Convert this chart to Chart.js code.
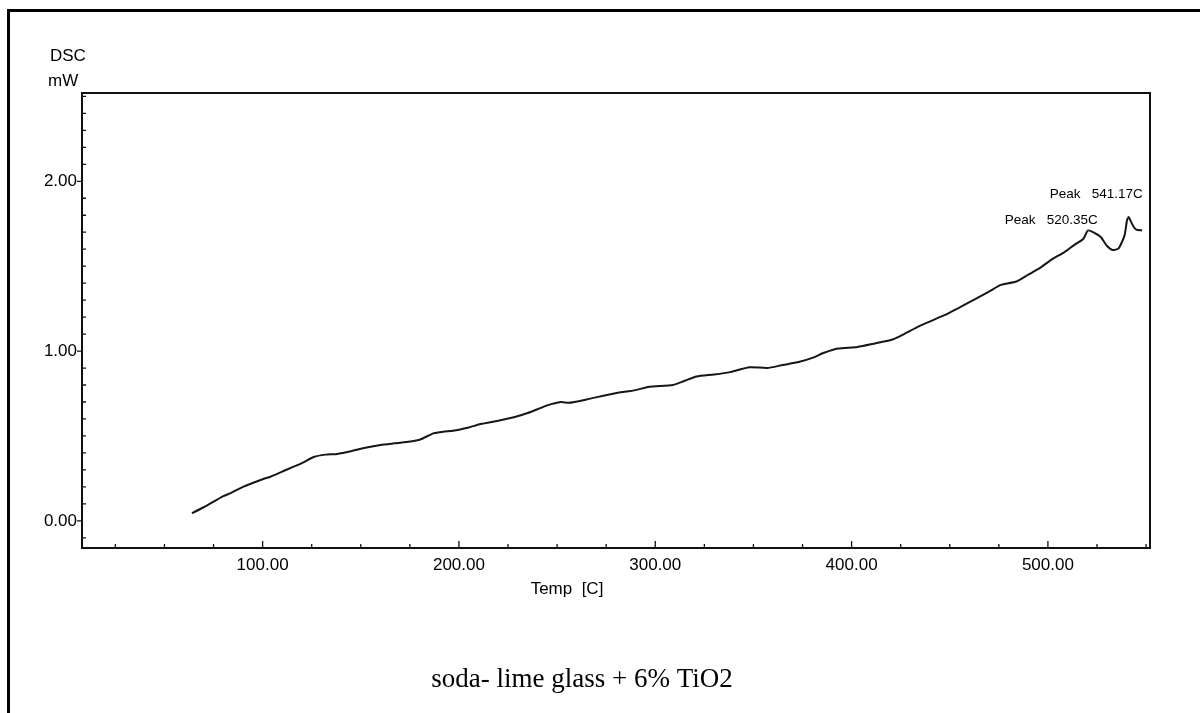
<!DOCTYPE html>
<html>
<head>
<meta charset="utf-8">
<script src="https://cdn.jsdelivr.net/npm/chart.js@4/dist/chart.umd.min.js"></script>
<style>
  html, body { margin: 0; padding: 0; background: #fff; overflow: hidden; }
  #wrap { position: relative; width: 1200px; height: 713px; }
  #frame { position: absolute; left: 7px; top: 9px; width: 1200px; height: 720px;
           border-left: 3px solid #000; border-top: 3px solid #000; pointer-events: none; }
  canvas { position: absolute; left: 0; top: 0; }
</style>
</head>
<body>
<div id="wrap">
  <canvas id="dscChart" width="1200" height="713"></canvas>
  <div id="frame"></div>
</div>
<script>
// DSC trace (Temp in C, DSC in mW)
const temps = [64, 70, 80, 84, 90, 100, 104, 110, 120, 126, 132, 138, 145, 150, 160, 170, 180, 187, 192, 197,
  205, 211, 220, 228, 235, 245, 252, 256, 265, 279, 290, 297, 309, 315, 321, 330, 338, 348, 357, 365,
  373, 380, 386, 393, 403, 412, 420, 425, 435, 449, 462, 470, 476, 484, 490, 496, 502, 508, 514, 518,
  520.35, 523, 527, 530, 533, 536, 539, 540.3, 541.17, 542, 543.5, 545, 548];
const dsc = [0.045, 0.08, 0.145, 0.165, 0.2, 0.245, 0.26, 0.29, 0.34, 0.376, 0.39, 0.394, 0.41, 0.425, 0.447, 0.46, 0.478, 0.515, 0.525, 0.53,
  0.55, 0.57, 0.59, 0.61, 0.635, 0.68, 0.7, 0.695, 0.715, 0.75, 0.77, 0.79, 0.8, 0.825, 0.85, 0.862, 0.876, 0.905, 0.9, 0.918,
  0.935, 0.96, 0.99, 1.015, 1.024, 1.045, 1.065, 1.09, 1.15, 1.22, 1.3, 1.35, 1.39, 1.41, 1.45, 1.49, 1.54, 1.58, 1.63, 1.66,
  1.71, 1.7, 1.67, 1.62, 1.595, 1.605, 1.68, 1.77, 1.79, 1.77, 1.735, 1.715, 1.71];

const xTicks = [100, 200, 300, 400, 500];
const yTicks = [0, 1, 2];
const peakTemps = [520.35, 541.17];
const peakValues = [1.71, 1.79];

const labelFont = '"Liberation Sans", Arial, sans-serif';

// frame, tick marks and the free texts
const decorations = {
  id: 'decorations',
  afterDraw(chart) {
    const ctx = chart.ctx;
    const area = chart.chartArea;
    const xs = chart.scales.x, ys = chart.scales.y;
    ctx.save();
    ctx.strokeStyle = '#111';
    ctx.lineWidth = 2;
    ctx.strokeRect(area.left, area.top, area.right - area.left, area.bottom - area.top);

    ctx.lineWidth = 1.3;
    ctx.beginPath();
    // x ticks every 25, pointing up into the plot
    for (let v = 25; v < xs.max; v += 25) {
      const px = xs.getPixelForValue(v);
      const len = (v % 100 === 0) ? 7 : 4;
      ctx.moveTo(px, area.bottom);
      ctx.lineTo(px, area.bottom - len);
    }
    // y ticks every 0.1
    for (let i = -1; i * 0.1 < ys.max; i++) {
      const py = ys.getPixelForValue(i * 0.1);
      if (i % 10 === 0) {
        ctx.moveTo(area.left - 5, py);
        ctx.lineTo(area.left, py);
      } else {
        ctx.moveTo(area.left, py);
        ctx.lineTo(area.left + 4, py);
      }
    }
    ctx.stroke();

    ctx.fillStyle = '#000';
    ctx.textBaseline = 'middle';
    ctx.textAlign = 'left';
    ctx.font = '17px ' + labelFont;
    ctx.fillText('DSC', 50, 56);
    ctx.fillText('mW', 48, 81);
    ctx.textAlign = 'center';
    ctx.fillText('Temp  [C]', 567, 589);

    ctx.font = '13.5px ' + labelFont;
    ctx.textAlign = 'right';
    const offs = [[10, -10], [14, -23]];
    peakTemps.forEach((t, i) => {
      const px = xs.getPixelForValue(t) + offs[i][0];
      const py = ys.getPixelForValue(peakValues[i]) + offs[i][1];
      ctx.fillText('Peak   ' + t.toFixed(2) + 'C', px, py);
    });

    ctx.font = '27px "Liberation Serif", "Times New Roman", serif';
    ctx.textAlign = 'center';
    ctx.fillText('soda- lime glass + 6% TiO2', 582, 680);
    ctx.restore();
  }
};

new Chart(document.getElementById('dscChart'), {
  type: 'line',
  data: {
    datasets: [{
      data: temps.map((t, i) => ({ x: t, y: dsc[i] })),
      borderColor: '#161616',
      borderWidth: 2,
      pointRadius: 0,
      tension: 0.2,
      fill: false
    }]
  },
  options: {
    responsive: false,
    animation: false,
    layout: { padding: { left: 0, top: 93, right: 50, bottom: 0 } },
    plugins: { legend: { display: false }, tooltip: { enabled: false } },
    scales: {
      x: {
        type: 'linear',
        min: 8,
        max: 552,
        grid: { display: false, drawTicks: false },
        border: { display: false },
        afterBuildTicks: s => { s.ticks = xTicks.map(v => ({ value: v })); },
        afterFit: s => { s.height = 165; },
        ticks: {
          autoSkip: false,
          maxRotation: 0,
          padding: 7,
          color: '#000',
          font: { family: labelFont, size: 17 },
          callback: v => Number(v).toFixed(2)
        }
      },
      y: {
        type: 'linear',
        min: -0.16,
        max: 2.52,
        grid: { display: false, drawTicks: false },
        border: { display: false },
        afterBuildTicks: s => { s.ticks = yTicks.map(v => ({ value: v })); },
        afterFit: s => { s.width = 82; },
        ticks: {
          autoSkip: false,
          padding: 5,
          color: '#000',
          font: { family: labelFont, size: 17 },
          callback: v => Number(v).toFixed(2)
        }
      }
    }
  },
  plugins: [decorations]
});
</script>
</body>
</html>
